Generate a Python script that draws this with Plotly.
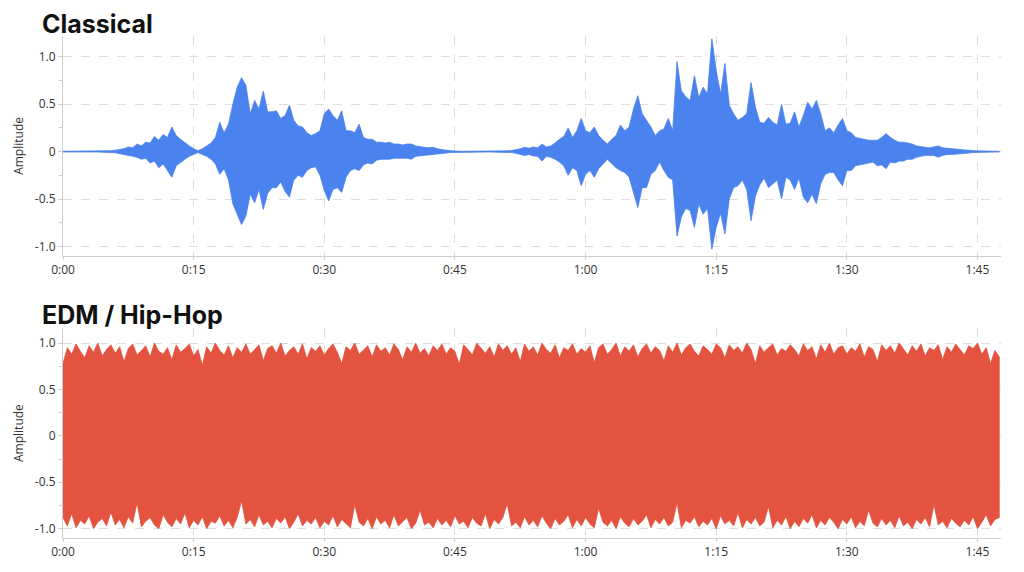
import plotly.graph_objects as go

# ---------------- data ----------------
# sample times (seconds), one envelope reading every 0.5 s
time_s = [i * 0.5 for i in range(216)]

classical_top = [
    0.004, 0.004, 0.004, 0.004, 0.004, 0.004, 0.004, 0.004, 0.004, 0.004,
    0.006, 0.01, 0.015, 0.02, 0.03, 0.05, 0.04, 0.08, 0.06, 0.1,
    0.09, 0.16, 0.12, 0.18, 0.15, 0.26, 0.17, 0.13, 0.09, 0.06,
    0.03, 0.01, 0.03, 0.06, 0.09, 0.15, 0.31, 0.2, 0.29, 0.5,
    0.68, 0.78, 0.7, 0.4, 0.54, 0.45, 0.64, 0.42, 0.42, 0.43,
    0.35, 0.38, 0.49, 0.33, 0.27, 0.26, 0.2, 0.17, 0.19, 0.22,
    0.4, 0.45, 0.38, 0.33, 0.43, 0.22, 0.22, 0.2, 0.29, 0.15,
    0.13, 0.13, 0.1, 0.1, 0.09, 0.1, 0.08, 0.08, 0.07, 0.08,
    0.08, 0.06, 0.05, 0.045, 0.04, 0.046, 0.03, 0.02, 0.015, 0.01,
    0.004, 0.004, 0.004, 0.004, 0.004, 0.004, 0.004, 0.004, 0.004, 0.004,
    0.004, 0.004, 0.008, 0.012, 0.02, 0.03, 0.046, 0.035, 0.05, 0.04,
    0.08, 0.05, 0.06, 0.09, 0.13, 0.16, 0.25, 0.15, 0.22, 0.35,
    0.22, 0.2, 0.26, 0.17, 0.12, 0.08, 0.13, 0.17, 0.28, 0.22,
    0.26, 0.45, 0.59, 0.4, 0.33, 0.26, 0.17, 0.22, 0.24, 0.35,
    0.22, 0.95, 0.64, 0.58, 0.54, 0.8, 0.57, 0.68, 0.61, 1.19,
    0.86, 0.61, 0.93, 0.49, 0.4, 0.33, 0.36, 0.4, 0.73, 0.47,
    0.31, 0.3, 0.36, 0.31, 0.28, 0.5, 0.29, 0.3, 0.42, 0.26,
    0.38, 0.52, 0.45, 0.54, 0.4, 0.22, 0.25, 0.2, 0.28, 0.35,
    0.22, 0.2, 0.15, 0.14, 0.13, 0.12, 0.12, 0.12, 0.15, 0.19,
    0.15, 0.12, 0.1, 0.1, 0.09, 0.08, 0.06, 0.05, 0.046, 0.04,
    0.05, 0.06, 0.04, 0.035, 0.03, 0.025, 0.02, 0.02, 0.015, 0.01,
    0.008, 0.005, 0.004, 0.004, 0.004, 0.004,
]

classical_bottom = [
    -0.004, -0.004, -0.004, -0.004, -0.004, -0.004, -0.004, -0.004, -0.004, -0.004,
    -0.006, -0.01, -0.012, -0.02, -0.025, -0.04, -0.05, -0.06, -0.08, -0.07,
    -0.12, -0.1, -0.17, -0.13, -0.2, -0.27, -0.15, -0.12, -0.08, -0.05,
    -0.03, -0.01, -0.03, -0.05, -0.08, -0.13, -0.24, -0.18, -0.3, -0.55,
    -0.66, -0.77, -0.68, -0.45, -0.54, -0.4, -0.61, -0.44, -0.38, -0.38,
    -0.32, -0.42, -0.48, -0.3, -0.25, -0.27, -0.2, -0.17, -0.16, -0.25,
    -0.41, -0.52, -0.4, -0.38, -0.43, -0.27, -0.2, -0.18, -0.2, -0.14,
    -0.12, -0.13, -0.09, -0.08, -0.08, -0.08, -0.07, -0.07, -0.07, -0.07,
    -0.08, -0.05, -0.05, -0.04, -0.04, -0.035, -0.03, -0.02, -0.015, -0.01,
    -0.004, -0.004, -0.004, -0.004, -0.004, -0.004, -0.004, -0.004, -0.004, -0.004,
    -0.004, -0.004, -0.008, -0.01, -0.018, -0.025, -0.04, -0.03, -0.045, -0.05,
    -0.1, -0.05, -0.06, -0.08, -0.11, -0.15, -0.25, -0.17, -0.2, -0.36,
    -0.24, -0.2, -0.27, -0.18, -0.13, -0.08, -0.12, -0.17, -0.2, -0.22,
    -0.27, -0.43, -0.59, -0.38, -0.38, -0.24, -0.2, -0.11, -0.2, -0.27,
    -0.3, -0.89, -0.69, -0.6, -0.62, -0.8, -0.55, -0.66, -0.6, -1.03,
    -0.8, -0.65, -0.87, -0.5, -0.38, -0.36, -0.3, -0.4, -0.73, -0.47,
    -0.35, -0.28, -0.38, -0.34, -0.3, -0.5, -0.27, -0.3, -0.4, -0.28,
    -0.48, -0.54, -0.45, -0.55, -0.34, -0.24, -0.22, -0.22, -0.3, -0.36,
    -0.2, -0.2, -0.15, -0.14, -0.13, -0.12, -0.11, -0.15, -0.14, -0.18,
    -0.11, -0.12, -0.1, -0.1, -0.08, -0.08, -0.06, -0.05, -0.04, -0.04,
    -0.04, -0.06, -0.04, -0.03, -0.03, -0.025, -0.02, -0.02, -0.015, -0.01,
    -0.008, -0.005, -0.004, -0.004, -0.004, -0.004,
]

edm_top = [
    0.78, 0.95, 0.88, 0.99, 0.91, 0.84, 0.97, 0.90, 1.00, 0.86, 0.93, 0.98,
    0.89, 0.96, 0.80, 0.94, 0.99, 0.87, 0.92, 0.97, 0.85, 1.00, 0.91, 0.88,
    0.95, 0.82, 0.98, 0.90, 0.94, 0.99, 0.86, 0.93, 0.76, 0.96, 0.89, 1.00,
    0.92, 0.87, 0.97, 0.84, 0.95, 0.90, 0.99, 0.88, 0.93, 0.98, 0.81, 0.94,
    0.97, 0.89, 1.00, 0.86, 0.92, 0.96, 0.88, 0.99, 0.83, 0.95, 0.91, 0.97,
    0.87, 0.94, 0.99, 0.90, 0.78, 0.96, 0.92, 1.00, 0.88, 0.93, 0.97, 0.85,
    0.98, 0.91, 0.95, 0.87, 0.99, 0.93, 0.82, 0.96, 0.90, 1.00, 0.89, 0.94,
    0.86, 0.97, 0.92, 0.99, 0.88, 0.95, 0.91, 0.77, 0.98, 0.93, 0.87, 1.00,
    0.94, 0.89, 0.96, 0.85, 0.99, 0.92, 0.97, 0.88, 0.95, 0.80, 0.99, 0.91,
    0.96, 0.87, 1.00, 0.93, 0.89, 0.98, 0.84, 0.95, 0.92, 0.99, 0.88, 0.94,
    0.90, 0.97, 0.79, 0.95, 0.99, 0.88, 0.93, 1.00, 0.86, 0.96, 0.91, 0.98,
    0.85, 0.94, 0.99, 0.89, 0.96, 0.92, 0.81, 0.97, 0.90, 1.00, 0.87, 0.95,
    0.99, 0.91, 0.86, 0.97, 0.93, 0.88, 0.99, 0.95, 0.84, 0.98, 0.92, 0.96,
    0.89, 1.00, 0.93, 0.78, 0.97, 0.90, 0.95, 0.99, 0.87, 0.94, 0.91, 0.98,
    0.93, 0.86, 0.99, 0.92, 0.96, 0.83, 0.98, 0.90, 1.00, 0.88, 0.95, 0.97,
    0.88, 0.95, 0.91, 0.99, 0.85, 0.96, 0.93, 0.80, 0.98, 0.92, 0.97, 0.89,
    1.00, 0.94, 0.87, 0.97, 0.91, 0.99, 0.86, 0.95, 0.92, 0.98, 0.82, 0.96,
    0.90, 0.99, 0.93, 0.87, 0.97, 0.94, 1.00, 0.88, 0.95, 0.78, 0.92, 0.85,
]

edm_bottom = [
    -0.88, -0.97, -0.84, -0.99, -0.91, -0.95, -0.86, -1.00, -0.93, -0.89, -0.97, -0.82,
    -0.96, -0.90, -0.99, -0.87, -0.94, -0.72, -0.98, -0.92, -0.88, -0.96, -1.00, -0.85,
    -0.93, -0.98, -0.89, -0.95, -0.83, -0.99, -0.91, -0.96, -0.87, -1.00, -0.92, -0.94,
    -0.86, -0.97, -0.91, -0.99, -0.88, -0.70, -0.95, -0.90, -0.98, -0.85, -0.96, -0.92,
    -0.99, -0.89, -0.94, -0.87, -1.00, -0.93, -0.84, -0.97, -0.91, -0.95, -0.88, -0.99,
    -0.92, -0.96, -0.86, -0.98, -0.90, -0.94, -0.99, -0.74, -0.93, -0.97, -0.89, -1.00,
    -0.87, -0.95, -0.91, -0.99, -0.85, -0.97, -0.92, -0.88, -1.00, -0.94, -0.80, -0.96,
    -0.93, -0.99, -0.89, -0.96, -0.91, -0.98, -0.86, -0.95, -0.92, -0.99, -0.88, -0.94,
    -0.97, -0.84, -1.00, -0.90, -0.95, -0.88, -0.73, -0.97, -0.93, -0.99, -0.87, -0.96,
    -0.91, -0.98, -0.86, -0.94, -1.00, -0.89, -0.96, -0.92, -0.85, -0.99, -0.90, -0.97,
    -0.88, -0.95, -0.99, -0.78, -0.93, -0.97, -0.91, -1.00, -0.87, -0.94, -0.98, -0.89,
    -0.96, -0.92, -0.85, -0.99, -0.90, -0.95, -0.88, -0.97, -0.93, -0.72, -0.99, -0.91,
    -0.94, -0.87, -0.98, -0.92, -0.96, -0.89, -1.00, -0.86, -0.95, -0.91, -0.97, -0.83,
    -0.99, -0.90, -0.95, -0.88, -0.97, -0.93, -0.76, -0.99, -0.91, -0.96, -0.87, -1.00,
    -0.92, -0.98, -0.89, -0.94, -0.85, -0.99, -0.91, -0.96, -0.88, -0.93, -1.00, -0.90,
    -0.95, -0.87, -0.99, -0.92, -0.97, -0.80, -0.94, -0.98, -0.89, -0.96, -0.91, -0.99,
    -0.86, -0.97, -0.93, -1.00, -0.90, -0.95, -0.88, -0.98, -0.74, -0.96, -0.92, -0.99,
    -0.89, -0.94, -0.98, -0.91, -0.96, -0.87, -1.00, -0.93, -0.85, -0.97, -0.90, -0.88,
]

x_tick_vals = [0, 15, 30, 45, 60, 75, 90, 105]
x_tick_text = ["0:00", "0:15", "0:30", "0:45", "1:00", "1:15", "1:30", "1:45"]
y_tick_vals = [1.0, 0.5, 0, -0.5, -1.0]
y_tick_text = ["1.0", "0.5", "0", "-0.5", "-1.0"]

panel_titles = ["Classical", "EDM / Hip-Hop"]
blue = "#4A82EE"
red = "#E3533F"

# ---------------- figure ----------------
fig = go.Figure()


def wave(top, bottom, color, xa, ya):
    xs = list(time_s) + list(reversed(time_s))
    ys = list(top) + list(reversed(bottom))
    return go.Scatter(
        x=xs, y=ys, mode="lines", fill="toself",
        fillcolor=color, line=dict(color=color, width=0.8),
        xaxis=xa, yaxis=ya, hoverinfo="skip", showlegend=False,
    )


fig.add_trace(wave(classical_top, classical_bottom, blue, "x", "y"))
fig.add_trace(wave(edm_top, edm_bottom, red, "x2", "y2"))

FONT = "Open Sans, Noto Sans, Arial, sans-serif"
TITLE_FONT = "Inter, Roboto, Arial, sans-serif"
grid = "#DDDDDD"
axis_col = "#CFCFCF"

xcommon = dict(
    range=[0, 107.7], tickvals=x_tick_vals, ticktext=x_tick_text,
    showgrid=True, gridcolor=grid, griddash="dash", gridwidth=1,
    showline=True, linecolor=axis_col, linewidth=1,
    ticks="outside", ticklen=3, tickcolor=axis_col,
    tickfont=dict(size=12, color="#333333", family=FONT),
    zeroline=False, fixedrange=True,
)
ycommon = dict(
    tickvals=y_tick_vals, ticktext=y_tick_text,
    showgrid=True, gridcolor=grid, griddash="dash", gridwidth=1,
    showline=True, linecolor=axis_col, linewidth=1,
    ticks="outside", ticklen=4, tickcolor=axis_col,
    minor=dict(tickvals=[0.75, 0.25, -0.25, -0.75], ticks="outside",
               ticklen=3, tickcolor=axis_col, showgrid=False),
    tickfont=dict(size=12, color="#333333", family=FONT),
    title=dict(text="Amplitude", font=dict(size=12, color="#333333", family=FONT), standoff=8),
    zeroline=False, fixedrange=True,
)

fig.update_layout(
    width=1024, height=572,
    margin=dict(l=63, r=23, t=36, b=34),
    paper_bgcolor="white", plot_bgcolor="white",
    font=dict(family=FONT, color="#333333"),
    xaxis=dict(domain=[0, 1], anchor="y", **xcommon),
    yaxis=dict(domain=[0.562, 1], anchor="x", range=[-1.1, 1.22], **ycommon),
    xaxis2=dict(domain=[0, 1], anchor="y2", **xcommon),
    yaxis2=dict(domain=[0, 0.418], anchor="x2", range=[-1.1, 1.16], **ycommon),
    hovermode=False,
    annotations=[
        dict(text="<b>%s</b>" % panel_titles[0], xref="paper", yref="paper",
             x=0, y=1.024, xanchor="left", yanchor="middle", xshift=-23,
             showarrow=False, font=dict(size=25, color="#111111", family=TITLE_FONT)),
        dict(text="<b>%s</b>" % panel_titles[1], xref="paper", yref="paper",
             x=0, y=0.444, xanchor="left", yanchor="middle", xshift=-23,
             showarrow=False, font=dict(size=25, color="#111111", family=TITLE_FONT)),
    ],
)

fig.write_html("out.html")
